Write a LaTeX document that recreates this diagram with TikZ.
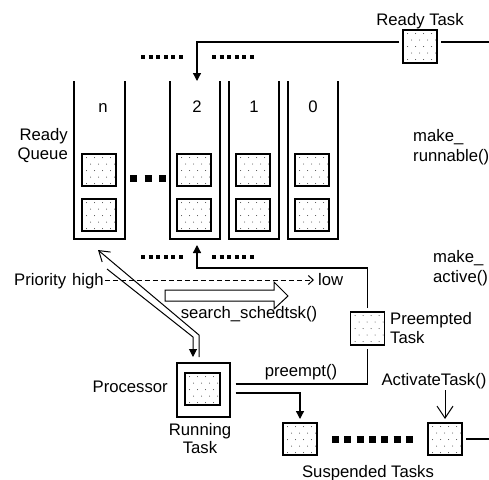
\documentclass[tikz,border=0pt]{standalone}
\usepackage{fontspec}
\setmainfont{Liberation Sans}
\usetikzlibrary{arrows.meta,calc}

\tikzset{
  lbl/.style={font=\fontsize{16.7}{19}\selectfont, inner sep=0pt},
  % dotted task square
  task/.style={draw, line width=1.3pt, fill=white, minimum width=34pt,
    minimum height=33pt, inner sep=0pt, outer sep=4pt,
    path picture={
      \foreach \r in {0,...,4}{\foreach \c in {0,...,3}{
        \fill[black!75] ($(path picture bounding box.north west)
          +({4.5pt+\c*8pt+mod(\r,2)*4pt},{-3.5pt-\r*6.5pt})$) circle (0.5pt);}}}},
  qtask/.style={task, line width=1.6pt, minimum height=32pt},
  wire/.style={line width=1.3pt},
  thin/.style={line width=1pt},
  tipf/.style={-{Triangle[length=8pt,width=8pt]}},
  tipo/.style={-{Straight Barb[length=10pt,width=13pt,line width=1pt]}},
  colwall/.style={line width=1.8pt},
  sqdots/.style={line width=#1, dash pattern=on #1 off 3.6pt},
  bigsq/.style={line width=7pt, dash pattern=on 7pt off 7.5pt},
  susq/.style={line width=7pt, dash pattern=on 7pt off 5.3pt},
}

\begin{document}
\begin{tikzpicture}[x=1pt, y=-1pt]
\useasboundingbox (0,0) rectangle (489,479);

% ready queue columns
\draw[colwall] (74,81) -- (74,239) -- (125,239) -- (125,81);
\draw[colwall] (170,81) -- (170,239) -- (220,239) -- (220,81);
\draw[colwall] (229,81) -- (229,239) -- (279,239) -- (279,81);
\draw[colwall] (288,81) -- (288,239) -- (338,239) -- (338,81);
\coordinate (q2top) at (197,81);
\coordinate (q2bot) at (197,245);

\node[lbl, anchor=base] (ln) at (103,112) {n};
\node[lbl, anchor=base] (l2) at (197,112) {2};
\node[lbl, anchor=base] (l1) at (254,112) {1};
\node[lbl, anchor=base] (l0) at (313,112) {0};

% queued tasks
\node[qtask] (qn1) at (99,170) {};
\node[qtask] (qn2) at (99,215) {};
\node[qtask] (q21) at (194,170) {};
\node[qtask] (q22) at (194,215) {};
\node[qtask] (q11) at (253,170) {};
\node[qtask] (q12) at (253,215) {};
\node[qtask] (q01) at (312,170) {};
\node[qtask] (q02) at (312,215) {};

% ellipsis marks
\draw[bigsq] (130,178.5) -- (167,178.5);
\draw[sqdots=4pt] (141,57) -- (183,57);
\draw[sqdots=4pt] (212,57) -- (254,57);
\draw[sqdots=4pt] (141,257) -- (183,257);
\draw[sqdots=4pt] (212,257) -- (254,257);

\node[lbl, anchor=base east] (rq1) at (68,140) {Ready};
\node[lbl, anchor=base east] (rq2) at (68,159) {Queue};

% ready task entering queue 2
\node[task, line width=1.6pt] (rt) at (420,46.5) {};
\node[lbl, anchor=base] (rtl) at (420,25) {Ready Task};
\coordinate (rtend) at (489,42);
\draw[wire] ([yshift=4.5pt]rt.east) -- (rtend);
\draw[wire, tipf] ([yshift=4.5pt]rt.west) -| (q2top);

\node[lbl, anchor=base west] (mr1) at (413,141) {make\_};
\node[lbl, anchor=base west] (mr2) at (413,161) {runnable()};
\node[lbl, anchor=base west] (ma1) at (433,262) {make\_};
\node[lbl, anchor=base west] (ma2) at (433,282) {active()};

% priority axis
\node[lbl, anchor=base west] (prio) at (14,285) {Priority};
\node[lbl, anchor=base west] (high) at (72,285) {high};
\node[lbl, anchor=base west] (low) at (318,285) {low};
\draw[thin, dash pattern=on 5pt off 3pt,
  -{Straight Barb[length=5pt,width=9pt,line width=1pt]}]
  ([xshift=1pt,yshift=5pt]high.base east) -- ([xshift=-4pt,yshift=5pt]low.base west);

% scheduler search arrow
\draw[thin, fill=white] (165,290) -- (274,290) -- (274,282) -- (288,296)
  -- (274,309) -- (274,301) -- (165,301) -- cycle;
\node[lbl, anchor=base] (srch) at (249,318) {search\_schedtsk()};

% processor with running task
\node[draw, line width=1.3pt, minimum width=53pt, minimum height=54pt,
  inner sep=0pt] (proc) at (203.5,390) {};
\node[task, line width=1.6pt, minimum width=35pt, minimum height=32pt] (run) at (202.5,389) {};
\node[lbl, anchor=base east] (procl) at (168,392) {Processor};
\node[lbl, anchor=base] (run1) at (200,435) {Running};
\node[lbl, anchor=base] (run2) at (200,453) {Task};

% dispatch / requeue arrows
\coordinate (upS) at (199,357);
\coordinate (upK) at (199,335);
\coordinate (qnTip) at (98,250);
\draw[thin, tipo] (upS) -- (upK) -- (qnTip);
\coordinate (dnS) at (107,269);
\coordinate (dnK) at (193,337);
\coordinate (dnE) at (193,357);
\draw[thin, tipf] (dnS) -- (dnK) -- (dnE);

% preempted task
\node[task] (pt) at (367.5,328.5) {};
\node[lbl, anchor=base west] (pt1) at (390,324) {Preempted};
\node[lbl, anchor=base west] (pt2) at (390,343) {Task};
\coordinate (pa) at ([xshift=5pt,yshift=6pt]proc.east);
\coordinate (pb) at ([xshift=5pt,yshift=-3pt]proc.east);
\draw[wire] (pa) -| (pt.south);
\draw[wire, tipf] (pt.north) |- ($(q2bot)+(0,23)$) -- (q2bot);
\node[lbl, anchor=base] (pre) at (301,376) {preempt()};

% suspended tasks
\node[task, minimum height=32pt] (s1) at (300,439) {};
\node[task, minimum height=32pt] (s2) at (445,439) {};
\draw[susq] (332,439) -- (414,439);
\draw[wire, tipf] (pb) -| (s1.north);
\coordinate (send) at (489,439);
\draw[wire] (s2.east) -- (send);
\node[lbl, anchor=base] (act) at (434,385) {ActivateTask()};
\coordinate (actS) at (445,390);
\draw[thin, -{Straight Barb[length=12pt,width=16pt,line width=1pt]}] (actS) -- (s2.north);
\node[lbl, anchor=base] (susp) at (368,477) {Suspended Tasks};
\end{tikzpicture}
\end{document}
